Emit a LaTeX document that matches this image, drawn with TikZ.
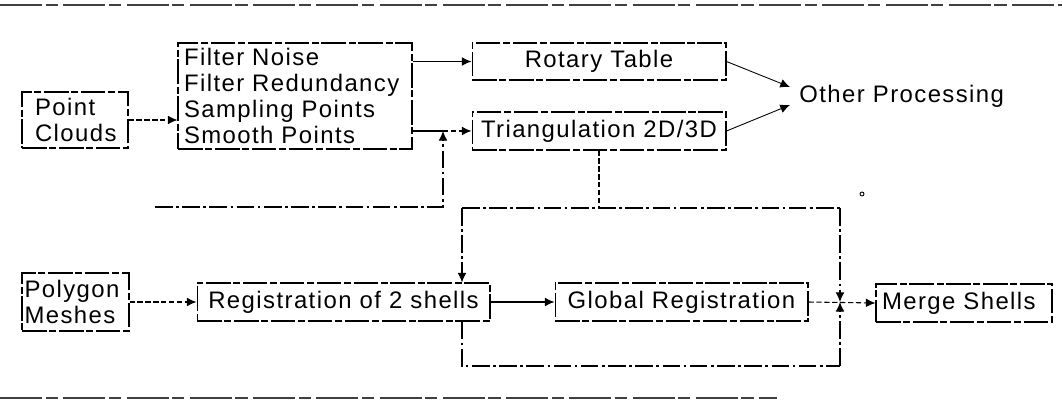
\documentclass[tikz,border=0pt]{standalone}
\usepackage{fontspec}
\setmainfont[LetterSpace=6]{Liberation Sans}
\usepackage{tikz}
\usetikzlibrary{arrows.meta, positioning, calc}

\begin{document}
\begin{tikzpicture}[
    x=0.02cm, y=-0.02cm,
    txt/.style={font=\fontsize{13.6}{14.7}\selectfont},
    box/.style={rectangle, draw, line width=0.6pt, dash pattern=on 14pt off 1.5pt on 4pt off 1.5pt, inner sep=0pt, txt},
    arrow/.style={-{Latex[length=5.5pt, width=5pt]}, line width=0.6pt},
    dashed_arrow/.style={arrow, dash pattern=on 3pt off 1.5pt},
    plain_line/.style={line width=0.6pt},
    dashed_line/.style={line width=0.6pt, dash pattern=on 3pt off 1.5pt},
    loop_line/.style={line width=0.6pt, dash pattern=on 10pt off 2pt on 1.5pt off 2pt},
    loop_arrow/.style={loop_line, -{Latex[length=5.5pt, width=5pt]}},
    frame_line/.style={line width=0.8pt, black!75, dash pattern=on 24pt off 2pt on 7pt off 3pt}
]
    \useasboundingbox (0,0) rectangle (1062,408);

    % Page rules
    \draw[frame_line] (0,5) -- (1062,5);
    \draw[frame_line] (0,398) -- (777,398);

    % Nodes
    \node[box, minimum width=2.12cm, minimum height=1.12cm, text width=1.6cm, inner xsep=0.26cm, align=left] (clouds) at (75,120) {Point\\Clouds};
    \node[box, minimum width=4.68cm, minimum height=2.12cm, text width=4.44cm, inner xsep=0.12cm, align=left] (filter) at (295,96) {Filter Noise\\Filter Redundancy\\Sampling Points\\Smooth Points};
    \node[box, minimum width=5.08cm, minimum height=0.74cm] (rotary) at (599,61.5) {Rotary Table};
    \node[box, minimum width=5.08cm, minimum height=0.76cm] (triang) at (599,131) {Triangulation 2D/3D};
    \node[txt, anchor=west, inner sep=0pt] (other) at (799,96) {Other Processing};

    \node[box, minimum width=2.14cm, minimum height=1.16cm, text width=2.04cm, inner xsep=0.05cm, align=left] (polygon) at (75.5,302) {Polygon\\Meshes};
    \node[box, minimum width=5.86cm, minimum height=0.76cm] (reg2) at (343.5,302) {Registration of 2 shells};
    \node[box, minimum width=5.06cm, minimum height=0.76cm] (global) at (681.5,302) {Global Registration};
    \node[box, minimum width=3.52cm, minimum height=0.76cm, text width=3.28cm, inner xsep=0.12cm, align=left] (merge) at (964,303) {Merge Shells};

    % Loop corners
    \coordinate (fbStart) at (155,207);
    \coordinate (fbCorner) at (443,207);
    \coordinate (loopNW) at (462,208);
    \coordinate (loopNE) at (840,208);
    \coordinate (loopSW) at (462,366);
    \coordinate (loopSE) at (840,366);

    % Connections
    \draw[dashed_arrow] (clouds.east) -- (clouds.east -| filter.west);
    \draw[arrow] (filter.east |- rotary.west) -- (rotary.west);
    \draw[plain_line] (filter.east |- triang.west) -- (fbCorner |- triang.west);
    \draw[dashed_arrow] (fbCorner |- triang.west) -- (triang.west);
    \draw[arrow, line width=0.5pt] (rotary.east) -- ([xshift=-0.18cm, yshift=0.18cm]other.west);
    \draw[arrow, line width=0.5pt] (triang.east) -- ([xshift=-0.18cm, yshift=-0.18cm]other.west);
    \draw[loop_arrow] (fbStart) -- (fbCorner) -- (fbCorner |- triang.west);

    \draw[dashed_line] (triang.south) -- (triang.south |- loopNW);
    \draw[loop_line] (loopNW) -- (loopNE);
    \draw[loop_arrow] (loopNW) -- (loopNW |- reg2.north);
    \draw[loop_line] (loopSW |- reg2.south) -- (loopSW) -- (loopSE);
    \draw[loop_arrow] (loopNE) -- (loopNE |- global.east);
    \draw[loop_arrow] (loopSE) -- (loopSE |- global.east);

    \draw[dashed_arrow] (polygon.east) -- (polygon.east -| reg2.west);
    \draw[arrow] (reg2.east) -- (global.west);
    \draw[dashed_arrow] (global.east) -- (merge.west);

    \draw[line width=0.5pt] (862,194) circle[radius=2];
\end{tikzpicture}
\end{document}
